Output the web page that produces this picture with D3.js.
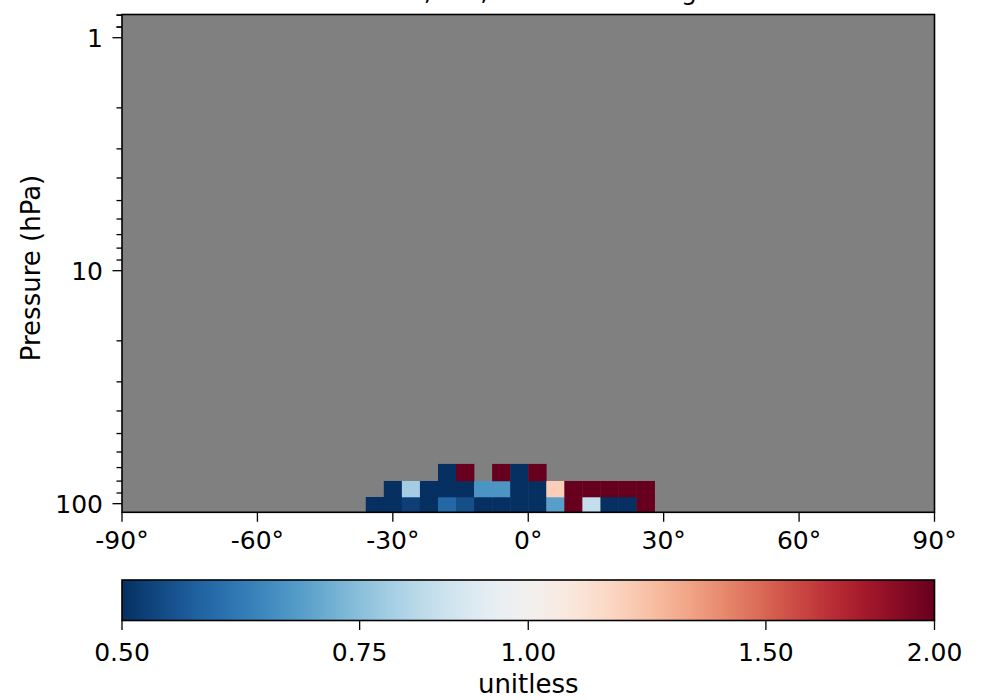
<!DOCTYPE html>
<html>
<head>
<meta charset="utf-8">
<script src="https://cdn.jsdelivr.net/npm/d3@7"></script>
<style>
  body { margin: 0; background: #ffffff; }
  text { font-family: "DejaVu Sans", sans-serif; }
</style>
</head>
<body>
<div id="chart"></div>
<script>
// latitude cell edges (deg) and pressure cell edges (hPa, bottom to top)
var latEdges = [-36, -32, -28, -24, -20, -16, -12, -8, -4, 0, 4, 8, 12, 16, 20, 24, 28]
var presEdges = [108.9, 93.6, 79.9, 67.5]

// ratio values per row (bottom row first), null = no data
var row0 = [0.42, 0.42, 0.52, 0.43, 0.58, 0.54, 0.44, 0.43, 0.42, 0.45, 0.68, 2.6, 0.85, 0.42, 0.44, 2.5]
var row1 = [null, 0.43, 0.79, 0.44, 0.42, 0.45, 0.66, 0.66, 0.43, 0.42, 1.18, 2.4, 2.7, 2.5, 2.6, 2.4]
var row2 = [null, null, null, null, 0.41, 2.3, null, 2.4, 0.44, 2.5, null, null, null, null, null, null]
var rows = [row0, row1, row2]

var xTicks = [-90, -60, -30, 0, 30, 60, 90]
var yMajor = [1, 10, 100]
var cbTicks = [0.5, 0.75, 1.0, 1.5, 2.0]

var title = "Ratio, Ref, Zonal Mean Avg"
var yLabel = "Pressure (hPa)"
var cbLabel = "unitless"

var W = 981, H = 700
var plot = { left: 122, right: 934.5, top: 14.5, bottom: 512.3 }
var cb = { top: 580, bottom: 620.5 }

var svg = d3.select("#chart").append("svg")
    .attr("width", W).attr("height", H)

var x = d3.scaleLinear().domain([-90, 90]).range([plot.left, plot.right])
var y = d3.scaleLog().domain([108.9, 0.795]).range([plot.bottom, plot.top])
var cnorm = d3.scaleLog().domain([0.5, 2.0]).range([0, 1]).clamp(true)
var color = function (v) { return d3.interpolateRdBu(1 - cnorm(v)) }

// gray axes background
svg.append("rect")
    .attr("x", plot.left).attr("y", plot.top)
    .attr("width", plot.right - plot.left).attr("height", plot.bottom - plot.top)
    .style("fill", "#808080")

// cells
rows.forEach(function (row, r) {
    var cells = row.map(function (v, i) { return { v: v, i: i } }).filter(function (d) { return d.v != null })
    svg.append("g").selectAll("rect")
        .data(cells)
        .enter()
        .append("rect")
        .attr("x", function (d) { return x(latEdges[d.i]) })
        .attr("width", function (d) { return x(latEdges[d.i + 1]) - x(latEdges[d.i]) + 0.3 })
        .attr("y", y(presEdges[r + 1]))
        .attr("height", y(presEdges[r]) - y(presEdges[r + 1]) + 0.3)
        .style("fill", function (d) { return color(d.v) })
})

// frame
svg.append("rect")
    .attr("x", plot.left).attr("y", plot.top)
    .attr("width", plot.right - plot.left).attr("height", plot.bottom - plot.top)
    .style("fill", "none").style("stroke", "black").style("stroke-width", 1.6)

// x axis
var xa = svg.append("g")
xa.selectAll("line").data(xTicks).enter().append("line")
    .attr("x1", function (d) { return x(d) }).attr("x2", function (d) { return x(d) })
    .attr("y1", plot.bottom).attr("y2", plot.bottom + 9.5)
    .style("stroke", "black").style("stroke-width", 1.3)
xa.selectAll("text").data(xTicks).enter().append("text")
    .attr("x", function (d) { return x(d) })
    .attr("y", 549)
    .attr("text-anchor", "middle")
    .style("font-size", "25px")
    .text(function (d) { return d + "°" })

// y axis, log ticks
var allTicks = y.ticks().concat([0.8, 0.9])
var ya = svg.append("g")
ya.selectAll("line").data(allTicks).enter().append("line")
    .attr("y1", function (d) { return y(d) }).attr("y2", function (d) { return y(d) })
    .attr("x1", function (d) { return yMajor.indexOf(d) >= 0 ? plot.left - 9.5 : plot.left - 5.5 })
    .attr("x2", plot.left)
    .style("stroke", "black").style("stroke-width", 1.3)
ya.selectAll("text").data(yMajor).enter().append("text")
    .attr("x", 103)
    .attr("y", function (d) { return y(d) + 9.2 })
    .attr("text-anchor", "end")
    .style("font-size", "25px")
    .text(function (d) { return d })

svg.append("text")
    .attr("transform", "translate(40," + 268 + ") rotate(-90)")
    .attr("text-anchor", "middle")
    .style("font-size", "26px")
    .text(yLabel)

// title (mostly cut off by the top edge, as in the original)
svg.append("text")
    .attr("x", (plot.left + plot.right) / 2)
    .attr("y", 0)
    .attr("text-anchor", "middle")
    .style("font-size", "25px")
    .text(title)

// colorbar
var cx = d3.scaleLog().domain([0.5, 2.0]).range([plot.left, plot.right])
var grad = svg.append("defs").append("linearGradient").attr("id", "cbgrad")
d3.range(0, 101).forEach(function (i) {
    grad.append("stop")
        .attr("offset", i + "%")
        .attr("stop-color", d3.interpolateRdBu(1 - i / 100))
})
svg.append("rect")
    .attr("x", plot.left).attr("y", cb.top)
    .attr("width", plot.right - plot.left).attr("height", cb.bottom - cb.top)
    .style("fill", "url(#cbgrad)")
    .style("stroke", "black").style("stroke-width", 1.6)

var ca = svg.append("g")
ca.selectAll("line").data(cbTicks).enter().append("line")
    .attr("x1", function (d) { return cx(d) }).attr("x2", function (d) { return cx(d) })
    .attr("y1", cb.bottom).attr("y2", cb.bottom + 9.5)
    .style("stroke", "black").style("stroke-width", 1.3)
ca.selectAll("text").data(cbTicks).enter().append("text")
    .attr("x", function (d) { return cx(d) })
    .attr("y", 660.5)
    .attr("text-anchor", "middle")
    .style("font-size", "25px")
    .text(function (d) { return d3.format(".2f")(d) })

svg.append("text")
    .attr("x", (plot.left + plot.right) / 2)
    .attr("y", 692.5)
    .attr("text-anchor", "middle")
    .style("font-size", "26px")
    .text(cbLabel)
</script>
</body>
</html>
